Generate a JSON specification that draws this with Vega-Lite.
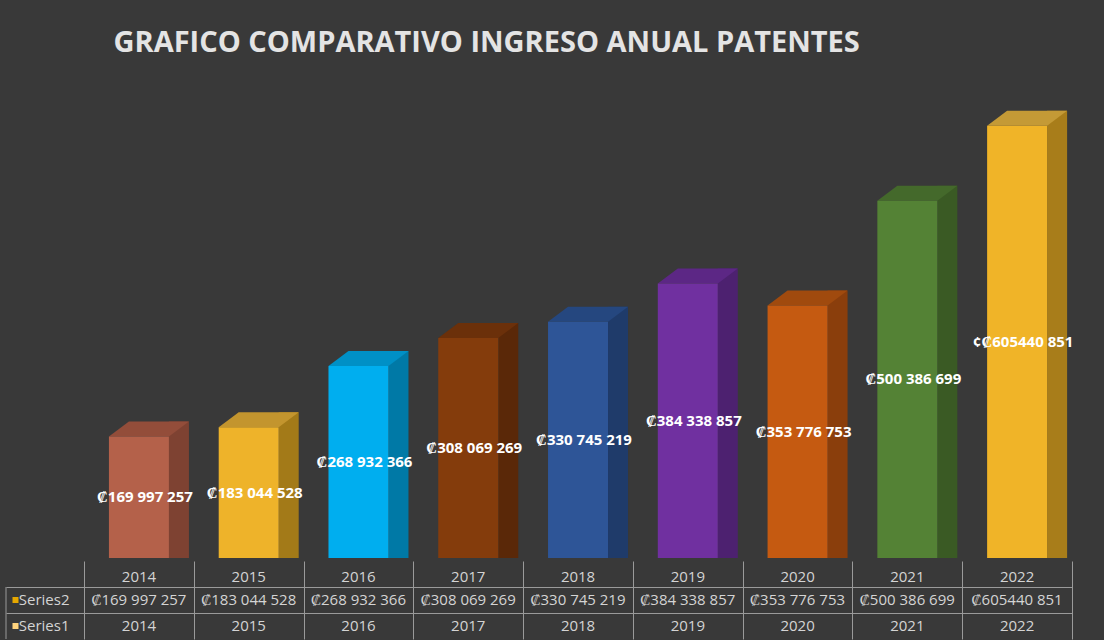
{
  "$schema": "https://vega.github.io/schema/vega-lite/v6.json",
  "background": "#393939",
  "padding": {"top": 29, "left": 5, "right": 33, "bottom": 2},
  "title": {"text": "GRAFICO COMPARATIVO INGRESO ANUAL PATENTES", "anchor": "start", "dx": 108, "offset": 13, "font": "Open Sans", "fontSize": 29, "fontWeight": "bold", "color": "#E4E4E4"},
  "datasets": {
    "rev": [
      {"year": 2014, "value": 169997257, "label": "₡169 997 257", "cell": "₡169 997 257"},
      {"year": 2015, "value": 183044528, "label": "₡183 044 528", "cell": "₡183 044 528"},
      {"year": 2016, "value": 268932366, "label": "₡268 932 366", "cell": "₡268 932 366"},
      {"year": 2017, "value": 308069269, "label": "₡308 069 269", "cell": "₡308 069 269"},
      {"year": 2018, "value": 330745219, "label": "₡330 745 219", "cell": "₡330 745 219"},
      {"year": 2019, "value": 384338857, "label": "₡384 338 857", "cell": "₡384 338 857"},
      {"year": 2020, "value": 353776753, "label": "₡353 776 753", "cell": "₡353 776 753"},
      {"year": 2021, "value": 500386699, "label": "₡500 386 699", "cell": "₡500 386 699"},
      {"year": 2022, "value": 605440851, "label": "¢₡605440 851", "cell": "₡605440 851"}
    ],
    "rows": [
      {"series": "Series2"},
      {"series": "Series1"}
    ]
  },
  "spacing": 3,
  "vconcat": [
    {
      "width": 1066,
      "height": 487,
      "data": {"name": "rev"},
      "transform": [{"calculate": "datum.value / 2", "as": "mid"}],
      "encoding": {
        "x": {"field": "year", "type": "ordinal", "scale": {"paddingInner": 0, "paddingOuter": 0.3555, "align": 1}, "axis": null}
      },
      "layer": [
        {
          "mark": {"type": "bar", "width": 20, "xOffset": 40, "yOffset": -15},
          "encoding": {
            "y": {"field": "value", "type": "quantitative", "stack": null, "title": null,
                  "scale": {"domain": [0, 682000000], "nice": false}, "axis": null},
            "color": {"field": "year", "type": "ordinal", "legend": null,
                      "scale": {"range": ["#7E4232", "#A37A18", "#0079A6", "#5A2808", "#1F3B6A", "#4D2170", "#8A3E0C", "#3A5A24", "#A87D1A"]}}
          }
        },
        {
          "mark": {"type": "point", "shape": "M-1,0L1,0L1.6667,-0.5L-0.3333,-0.5Z", "size": 3600, "filled": true, "opacity": 1, "strokeWidth": 0},
          "encoding": {
            "y": {"field": "value", "type": "quantitative", "title": null},
            "color": {"field": "year", "type": "ordinal", "legend": null,
                      "scale": {"range": ["#934D3A", "#C3952E", "#0090C6", "#6B300A", "#25477F", "#5C2785", "#A04A0E", "#44692B", "#C49A36"]}}
          }
        },
        {
          "mark": {"type": "bar", "width": 60},
          "encoding": {
            "y": {"field": "value", "type": "quantitative", "stack": null, "title": null},
            "color": {"field": "year", "type": "ordinal", "legend": null,
                      "scale": {"range": ["#B4614A", "#EEB32A", "#00AEEF", "#843C0C", "#2E5597", "#7030A0", "#C55A11", "#548235", "#F0B428"]}}
          }
        },
        {
          "mark": {"type": "text", "font": "Open Sans", "fontWeight": "bold", "fontSize": 15, "fill": "#FFFFFF", "dx": 6},
          "encoding": {
            "y": {"field": "mid", "type": "quantitative", "title": null},
            "text": {"field": "label", "type": "nominal"}
          }
        }
      ],
      "resolve": {"scale": {"color": "independent"}}
    },
    {
      "width": 1066,
      "height": 78,
      "layer": [
        {
          "data": {"name": "rev"},
          "mark": {"type": "text", "font": "Open Sans", "fontSize": 15, "fill": "#D4D4D4", "dy": 3},
          "encoding": {
            "x": {"field": "year", "type": "quantitative",
                  "scale": {"domain": [2012.7887, 2022.5], "nice": false, "zero": false},
                  "axis": {"values": [2013.5, 2014.5, 2015.5, 2016.5, 2017.5, 2018.5, 2019.5, 2020.5, 2021.5, 2022.5], "grid": true, "gridColor": "#9A9A9A", "gridWidth": 1, "gridOpacity": 1, "labels": false, "ticks": false, "domain": false, "title": null}},
            "y": {"datum": 0.5, "type": "quantitative",
                  "scale": {"domain": [0, 3], "reverse": true, "nice": false, "zero": false},
                  "axis": {"values": [1, 2], "grid": true, "gridColor": "#9A9A9A", "gridWidth": 1, "gridOpacity": 1, "labels": false, "ticks": false, "domain": false, "title": null}},
            "text": {"field": "year", "type": "nominal"}
          }
        },
        {
          "data": {"name": "rev"},
          "mark": {"type": "text", "font": "Open Sans", "fontSize": 15, "fill": "#D4D4D4"},
          "encoding": {
            "x": {"field": "year", "type": "quantitative"},
            "y": {"datum": 1.5, "type": "quantitative"},
            "text": {"field": "cell", "type": "nominal"}
          }
        },
        {
          "data": {"name": "rev"},
          "mark": {"type": "text", "font": "Open Sans", "fontSize": 15, "fill": "#D4D4D4"},
          "encoding": {
            "x": {"field": "year", "type": "quantitative"},
            "y": {"datum": 2.5, "type": "quantitative"},
            "text": {"field": "year", "type": "nominal"}
          }
        },
        {
          "data": {"name": "rows"},
          "transform": [{"filter": "datum.series === 'Series2'"}],
          "mark": {"type": "rule", "color": "#9A9A9A", "strokeWidth": 1},
          "encoding": {
            "x": {"datum": 2012.7887, "type": "quantitative"},
            "y": {"datum": 1, "type": "quantitative"},
            "y2": {"datum": 3}
          }
        },
        {
          "data": {"name": "rows"},
          "transform": [{"filter": "datum.series === 'Series2'"}],
          "mark": {"type": "point", "shape": "square", "size": 36, "filled": true, "opacity": 1, "color": "#E6A800"},
          "encoding": {
            "x": {"datum": 2012.8752, "type": "quantitative"},
            "y": {"datum": 1.5, "type": "quantitative"}
          }
        },
        {
          "data": {"name": "rows"},
          "transform": [{"filter": "datum.series === 'Series1'"}],
          "mark": {"type": "point", "shape": "square", "size": 36, "filled": true, "opacity": 1, "color": "#FFD47E"},
          "encoding": {
            "x": {"datum": 2012.8752, "type": "quantitative"},
            "y": {"datum": 2.5, "type": "quantitative"}
          }
        },
        {
          "data": {"name": "rows"},
          "transform": [{"filter": "datum.series === 'Series2'"}],
          "mark": {"type": "text", "font": "Open Sans", "fontSize": 15, "fill": "#D4D4D4", "align": "left"},
          "encoding": {
            "x": {"datum": 2012.905, "type": "quantitative"},
            "y": {"datum": 1.5, "type": "quantitative"},
            "text": {"field": "series", "type": "nominal"}
          }
        },
        {
          "data": {"name": "rows"},
          "transform": [{"filter": "datum.series === 'Series1'"}],
          "mark": {"type": "text", "font": "Open Sans", "fontSize": 15, "fill": "#D4D4D4", "align": "left"},
          "encoding": {
            "x": {"datum": 2012.905, "type": "quantitative"},
            "y": {"datum": 2.5, "type": "quantitative"},
            "text": {"field": "series", "type": "nominal"}
          }
        }
      ]
    }
  ],
  "config": {"view": {"stroke": null}, "font": "Open Sans"}
}
